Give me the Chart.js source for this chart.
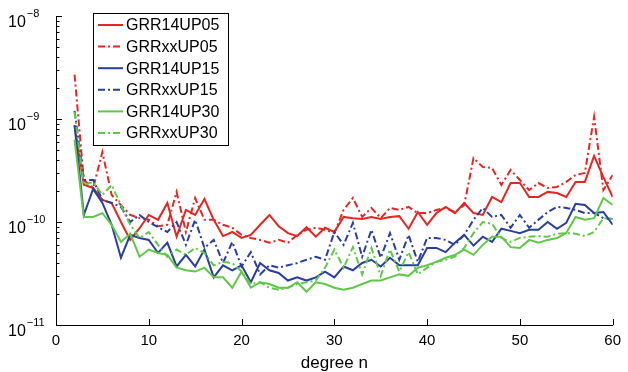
<!DOCTYPE html>
<html>
<head>
<meta charset="utf-8">
<script src="https://cdn.jsdelivr.net/npm/chart.js@4/dist/chart.umd.min.js"></script>
<style>
  html, body { margin: 0; padding: 0; background: #fff; }
  canvas { display: block; }
</style>
</head>
<body>
<canvas id="errChart" width="628" height="372"></canvas>
<script>
// degree n of the coefficient sets
const degrees = [2,3,4,5,6,7,8,9,10,11,12,13,14,15,16,17,18,19,20,21,22,23,24,25,26,27,28,29,30,
  31,32,33,34,35,36,37,38,39,40,41,42,43,44,45,46,47,48,49,50,51,52,53,54,55,56,57,58,59,60];

const grr14up05 = [8.7e-10,2.3e-10,2.14e-10,1.64e-10,1.53e-10,1.0e-10,6.7e-11,8.7e-11,1.17e-10,1.05e-10,
  1.53e-10,7.2e-11,1.31e-10,1.17e-10,1.67e-10,1.05e-10,7.3e-11,8.0e-11,7.0e-11,7.5e-11,
  9.4e-11,1.17e-10,9.1e-11,7.8e-11,7.3e-11,8.9e-11,7.2e-11,8.8e-11,8.0e-11,1.12e-10,
  1.09e-10,1.07e-10,1.12e-10,1.07e-10,1.12e-10,1.14e-10,8.6e-11,1.25e-10,9.4e-11,1.22e-10,
  1.40e-10,1.22e-10,1.53e-10,1.22e-10,1.17e-10,1.75e-10,1.56e-10,2.39e-10,2.39e-10,1.75e-10,
  1.75e-10,1.96e-10,1.91e-10,1.75e-10,2.45e-10,2.45e-10,4.37e-10,2.73e-10,1.75e-10];

const grrxxup05 = [2.7e-9,2.56e-10,2.14e-10,4.78e-10,1.83e-10,1.46e-10,1.17e-10,1.09e-10,1.05e-10,9.1e-11,
  9.4e-11,1.96e-10,8.0e-11,1.71e-10,1.05e-10,1.05e-10,9.4e-11,8.8e-11,7.5e-11,7.0e-11,
  6.7e-11,6.3e-11,6.7e-11,6.3e-11,7.5e-11,8.4e-11,8.8e-11,8.4e-11,7.8e-11,1.31e-10,
  1.71e-10,1.12e-10,1.37e-10,1.09e-10,1.37e-10,1.31e-10,1.40e-10,1.22e-10,1.22e-10,1.31e-10,
  1.37e-10,1.25e-10,1.46e-10,4.18e-10,3.42e-10,3.34e-10,2.29e-10,3.2e-10,2.56e-10,2.04e-10,
  2.39e-10,2.14e-10,2.19e-10,2.45e-10,2.86e-10,2.99e-10,1.05e-9,2.04e-10,2.86e-10];

const grr14up15 = [8.7e-10,1.17e-10,2.09e-10,1.53e-10,9.4e-11,4.5e-11,7.5e-11,7.0e-11,6.7e-11,5.0e-11,
  6.3e-11,3.7e-11,4.8e-11,3.7e-11,5.4e-11,2.9e-11,3.8e-11,3.4e-11,3.8e-11,2.6e-11,
  4.0e-11,3.4e-11,3.2e-11,2.7e-11,2.9e-11,2.7e-11,2.9e-11,3.3e-11,2.9e-11,3.7e-11,
  3.4e-11,4.0e-11,4.3e-11,3.7e-11,4.5e-11,3.8e-11,3.8e-11,3.8e-11,5.6e-11,5.6e-11,
  5.1e-11,6.3e-11,7.5e-11,5.9e-11,7.2e-11,6.4e-11,8.6e-11,8.2e-11,7.8e-11,8.4e-11,
  8.4e-11,1.0e-10,8.6e-11,9.8e-11,1.5e-10,1.46e-10,1.22e-10,1.25e-10,9.4e-11];

const grrxxup15 = [1.2e-9,2.56e-10,2.56e-10,1.64e-10,1.53e-10,1.40e-10,1.0e-10,1.17e-10,1.0e-10,8.9e-11,
  8.0e-11,1.0e-10,6.0e-11,1.05e-10,5.6e-11,6.7e-11,4.0e-11,6.4e-11,3.7e-11,5.1e-11,
  3.1e-11,3.8e-11,3.6e-11,3.8e-11,4.0e-11,4.3e-11,4.6e-11,4.3e-11,8.0e-11,6.0e-11,
  9.8e-11,4.6e-11,8.4e-11,4.5e-11,7.8e-11,4.3e-11,7.5e-11,4.1e-11,7.0e-11,7.0e-11,
  6.7e-11,6.0e-11,7.5e-11,1.05e-10,1.37e-10,1.12e-10,1.17e-10,8.8e-11,1.17e-10,8.8e-11,
  1.05e-10,1.25e-10,1.40e-10,1.37e-10,1.31e-10,1.22e-10,1.22e-10,1.09e-10,1.07e-10];

const grr14up30 = [6.3e-10,1.12e-10,1.12e-10,1.22e-10,9.4e-11,6.4e-11,7.7e-11,4.6e-11,5.4e-11,5.0e-11,
  4.8e-11,3.6e-11,3.4e-11,3.3e-11,3.6e-11,2.9e-11,2.9e-11,2.3e-11,3.3e-11,2.3e-11,
  2.6e-11,2.5e-11,2.3e-11,2.3e-11,2.6e-11,2.1e-11,2.6e-11,2.5e-11,2.3e-11,2.2e-11,
  2.3e-11,2.5e-11,2.7e-11,2.7e-11,2.9e-11,3.1e-11,3.0e-11,3.6e-11,3.8e-11,4.1e-11,
  4.5e-11,4.8e-11,5.4e-11,4.8e-11,6.0e-11,7.2e-11,7.2e-11,5.7e-11,5.6e-11,6.7e-11,
  6.3e-11,6.7e-11,7.0e-11,7.8e-11,1.12e-10,1.05e-10,1.09e-10,1.71e-10,1.46e-10];

const grrxxup30 = [1.17e-9,2.29e-10,2.45e-10,1.83e-10,2.29e-10,1.46e-10,9.4e-11,7.0e-11,8.0e-11,6.0e-11,
  4.6e-11,5.4e-11,4.8e-11,5.6e-11,5.0e-11,3.8e-11,4.1e-11,4.0e-11,3.3e-11,2.5e-11,
  2.6e-11,2.3e-11,2.2e-11,2.3e-11,2.5e-11,2.6e-11,2.7e-11,3.6e-11,5.4e-11,3.6e-11,
  5.7e-11,3.1e-11,5.6e-11,3.0e-11,5.4e-11,3.3e-11,5.1e-11,3.1e-11,3.6e-11,4.1e-11,
  4.3e-11,4.6e-11,5.6e-11,7.8e-11,1.0e-10,9.6e-11,7.0e-11,6.4e-11,7.0e-11,7.2e-11,
  7.3e-11,7.2e-11,7.7e-11,7.8e-11,7.7e-11,7.3e-11,8.0e-11,1.09e-10,1.07e-10];

const seriesNames = ['GRR14UP05','GRRxxUP05','GRR14UP15','GRRxxUP15','GRR14UP30','GRRxxUP30'];
const seriesValues = [grr14up05, grrxxup05, grr14up15, grrxxup15, grr14up30, grrxxup30];

const xTicks = [0, 10, 20, 30, 40, 50, 60];
const yTicks = [1e-11, 1e-10, 1e-9, 1e-8];
const yTickExps = ['\u221211', '\u221210', '\u22129', '\u22128'];

const FONT = '"Liberation Sans", Arial, Helvetica, sans-serif';
const RED = 'rgb(228,38,36)';
const BLUE = 'rgb(42,62,160)';
const GREEN = 'rgb(96,200,72)';
const colors = [RED, RED, BLUE, BLUE, GREEN, GREEN];
const DASHDOT = [7, 3, 2, 3];

// axes drawn MATLAB style: left + bottom only, ticks pointing inward
const axisDecor = {
  id: 'axisDecor',
  afterDraw(chart) {
    const ctx = chart.ctx;
    const a = chart.chartArea;
    const x = chart.scales.x, y = chart.scales.y;
    ctx.save();
    ctx.strokeStyle = '#000';
    ctx.lineWidth = 1;
    ctx.beginPath();
    ctx.moveTo(a.left + 0.5, a.top);
    ctx.lineTo(a.left + 0.5, a.bottom + 0.5);
    ctx.lineTo(a.right + 0.5, a.bottom + 0.5);
    xTicks.forEach(function(v) {
      const px = Math.round(x.getPixelForValue(v)) + 0.5;
      ctx.moveTo(px, a.bottom);
      ctx.lineTo(px, a.bottom - 6);
    });
    for (let d = 0; d < yTicks.length; d++) {
      for (let m = 1; m < 10; m++) {
        if (d === yTicks.length - 1 && m > 1) break;
        const py = Math.round(y.getPixelForValue(m * yTicks[d])) + 0.5;
        ctx.moveTo(a.left, py);
        ctx.lineTo(a.left + (m === 1 ? 6 : 3.5), py);
      }
    }
    ctx.stroke();

    // y labels 10^n
    ctx.fillStyle = '#000';
    ctx.textBaseline = 'alphabetic';
    ctx.textAlign = 'left';
    yTicks.forEach(function(v, i) {
      const py = y.getPixelForValue(v);
      ctx.font = '16px ' + FONT;
      ctx.fillText('10', 8, py + 11);
      const w = ctx.measureText('10').width;
      ctx.font = '11px ' + FONT;
      ctx.fillText(yTickExps[i], 8 + w + 1, py + 1);
    });

    // legend box
    const bx = 93, by = 13, bw = 135, bh = 132;
    ctx.fillStyle = '#fff';
    ctx.fillRect(bx, by, bw, bh);
    ctx.strokeStyle = '#000';
    ctx.lineWidth = 1;
    ctx.strokeRect(bx + 0.5, by + 0.5, bw, bh);
    chart.data.datasets.forEach(function(ds, i) {
      const ly = 25 + i * 21.6;
      ctx.beginPath();
      ctx.strokeStyle = ds.borderColor;
      ctx.lineWidth = 2;
      ctx.setLineDash(ds.borderDash || []);
      ctx.moveTo(98, ly);
      ctx.lineTo(123, ly);
      ctx.stroke();
      ctx.setLineDash([]);
      ctx.fillStyle = '#000';
      ctx.font = '16px ' + FONT;
      ctx.textBaseline = 'middle';
      ctx.fillText(ds.label, 126, ly + 1);
    });
    ctx.restore();
  }
};

const ctx = document.getElementById('errChart').getContext('2d');
const myChart = new Chart(ctx, {
  type: 'line',
  data: {
    datasets: seriesNames.map(function(name, i) {
      return {
        label: name,
        data: degrees.map(function(n, k) { return {x: n, y: seriesValues[i][k]}; }),
        borderColor: colors[i],
        borderWidth: 2,
        borderDash: i % 2 === 1 ? DASHDOT : [],
        pointRadius: 0,
        tension: 0,
        fill: false,
        order: 6 - i
      };
    })
  },
  options: {
    responsive: false,
    animation: false,
    layout: { padding: { top: 16, right: 15, left: 0, bottom: 0 } },
    plugins: { legend: { display: false }, tooltip: { enabled: false } },
    scales: {
      x: {
        type: 'linear',
        min: 0,
        max: 60,
        grid: { display: false, drawTicks: false },
        border: { display: false },
        ticks: {
          stepSize: 10,
          autoSkip: false,
          maxRotation: 0,
          padding: 7,
          color: '#000',
          font: { family: FONT, size: 15 }
        },
        title: {
          display: true,
          text: 'degree n',
          color: '#000',
          font: { family: FONT, size: 17 },
          padding: { top: 0, bottom: -2 }
        },
        afterFit: function(s) { s.height = 47; }
      },
      y: {
        type: 'logarithmic',
        min: 1e-11,
        max: 1e-8,
        grid: { display: false, drawTicks: false },
        border: { display: false },
        ticks: { display: false },
        afterFit: function(s) { s.width = 56; }
      }
    }
  },
  plugins: [axisDecor]
});
</script>
</body>
</html>
